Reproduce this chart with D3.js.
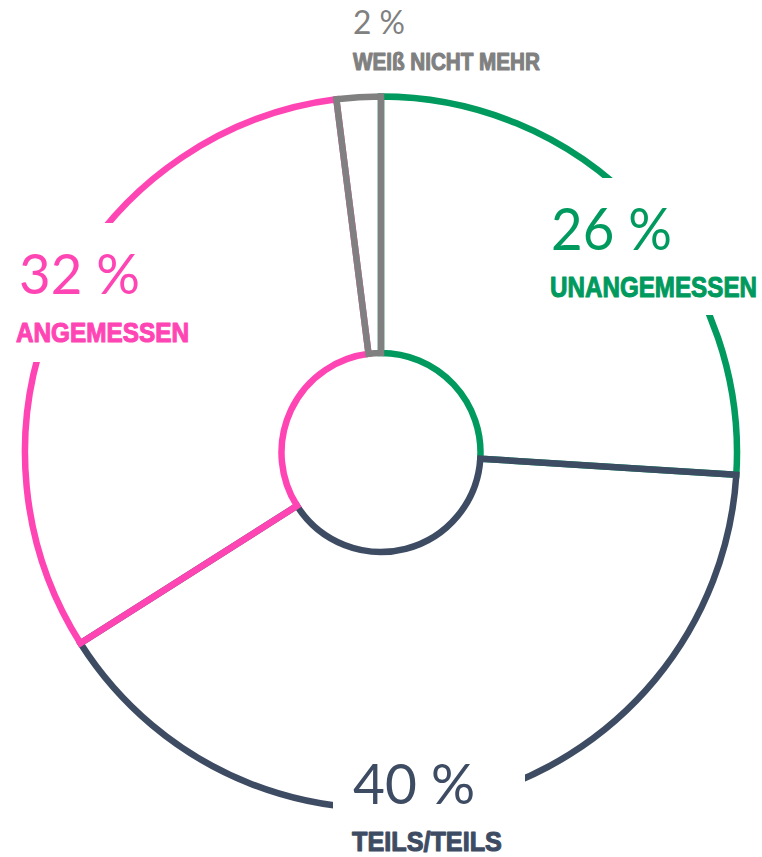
<!DOCTYPE html>
<html>
<head>
<meta charset="utf-8">
<script src="https://cdn.jsdelivr.net/npm/d3@7"></script>
<style>
html,body{margin:0;padding:0;background:#fff;}
svg{display:block;}
</style>
</head>
<body>
<svg id="chart" width="762" height="857"></svg>
<script>
const categories = ["UNANGEMESSEN", "TEILS/TEILS", "ANGEMESSEN", "WEIß NICHT MEHR"];
const values = [26, 40, 32, 2];
const valueLabels = ["26 %", "40 %", "32 %", "2 %"];
const colors = ["#009A5E", "#3E4C63", "#FF45B4", "#808080"];

const svg = d3.select("#chart");
const cx = 381, cy = 452.5;
const g = svg.append("g").attr("transform", `translate(${cx},${cy})`);

const pie = d3.pie().sort(null).value(d => d).startAngle(0).endAngle(2 * Math.PI);
const arc = d3.arc().innerRadius(99.5).outerRadius(356);
const arcs = pie(values);

g.selectAll("path.slice")
  .data(arcs)
  .join("path")
  .attr("class", "slice")
  .attr("d", arc)
  .attr("fill", "none")
  .attr("stroke", (d, i) => colors[i])
  .attr("stroke-width", 6.5)
  .attr("stroke-linejoin", "miter");

// label layout (white masks behind labels, then text)
const layout = [
  {mask: [540, 178, 222, 137], pct: {x: 551, y: 250, w: 121, fs: 58}, cat: {x: 550, y: 297, w: 207, fs: 30}},
  {mask: [333, 740, 192, 117], pct: {x: 353, y: 804, w: 122, fs: 57}, cat: {x: 352, y: 851, w: 150, fs: 28}},
  {mask: [0, 223, 200, 139],   pct: {x: 19,  y: 294, w: 121, fs: 57}, cat: {x: 16,  y: 342, w: 173, fs: 28}},
  {mask: null,                 pct: {x: 353, y: 34,  w: 52,  fs: 33}, cat: {x: 353, y: 70,  w: 187, fs: 23.5}}
];

function fitText(sel, p, text, family, weight, color, sw) {
  const t = sel.append("text")
    .attr("x", 0).attr("y", 0)
    .attr("font-family", family)
    .attr("font-weight", weight)
    .attr("font-size", p.fs)
    .attr("fill", color)
    .text(text);
  if (sw) t.attr("stroke", color).attr("stroke-width", sw).attr("stroke-linejoin", "round");
  const len = t.node().getComputedTextLength() || p.w;
  t.attr("transform", `translate(${p.x},${p.y}) scale(${p.w / len},1)`);
  return t;
}

const labels = svg.append("g");
layout.forEach((L, i) => {
  if (L.mask) {
    labels.append("rect")
      .attr("x", L.mask[0]).attr("y", L.mask[1])
      .attr("width", L.mask[2]).attr("height", L.mask[3])
      .attr("fill", "#fff");
  }
  fitText(labels, L.pct, valueLabels[i], "Lato, 'Open Sans', sans-serif", 400, colors[i], 0);
  fitText(labels, L.cat, categories[i], "'Liberation Sans', Arial, sans-serif", 700, colors[i], 1.1);
});
</script>
</body>
</html>
